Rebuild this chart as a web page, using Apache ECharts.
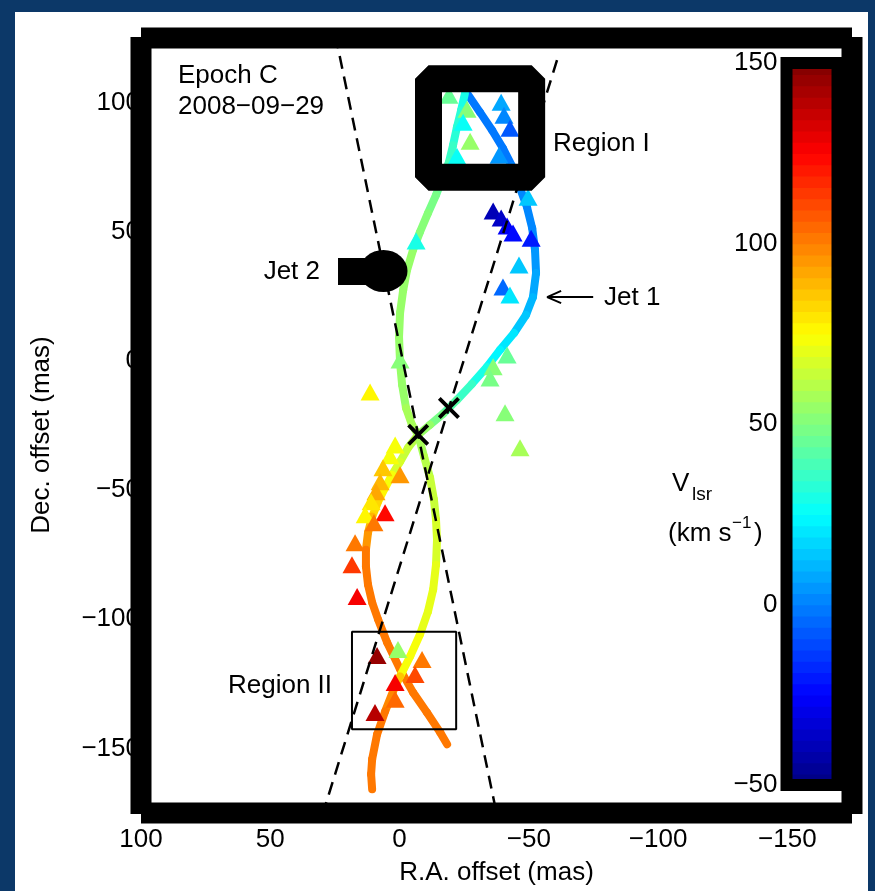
<!DOCTYPE html>
<html><head><meta charset="utf-8">
<script src="https://cdn.jsdelivr.net/npm/echarts@6/dist/echarts.min.js"></script>
<style>html,body{margin:0;padding:0;background:#0c3868;}#c{width:875px;height:891px;}</style>
</head><body><div id="c"></div>
<script>
// ---------- data ----------
const xTicks = [100, 50, 0, -50, -100, -150];
const yTicks = [100, 50, 0, -50, -100, -150];
const cbTicks = [150, 100, 50, 0, -50];
const CB_MIN = -50, CB_MAX = 150;

// Jet 1 model path (R.A. offset, Dec. offset, Vlsr)
const jet1RA  = [-26.1,-31.1,-35.8,-40.0,-43.5,-46.2,-49.3,-51.3,-52.4,-52.8,-51.6,-48.9,-44.3,-38.9,-33.8,-28.0,-22.2,-16.8,-11.8,-7.2,-3.3,-0.2,2.9,5.6,8.3,10.6,12.2,13.0,13.0,12.2,10.6,8.3,4.8,-0.2,-5.2,-10.6,-15.7,-18.4];
const jet1Dec = [103.6,96.3,89.3,82.3,75.4,68.0,59.5,51.4,42.9,34.0,24.7,17.8,10.8,4.3,-2.3,-8.9,-15.1,-20.5,-24.7,-28.6,-33.6,-39.0,-44.1,-49.1,-54.5,-60.3,-66.5,-73.1,-79.6,-86.6,-93.5,-100.1,-109.0,-119.4,-128.3,-136.1,-143.8,-148.4];
const jet1V   = [-2,-2,-1,-1,0,0,1,2,4,6,9,12,17,22,27,33,40,46,51,57,62,66,70,75,80,87,94,99,101,102,102,102,102,102,102,103,103,103];

// Jet 2 model path
const jet2RA  = [-25.3,-23.8,-22.2,-20.7,-19.1,-16.4,-14.1,-11.0,-7.9,-5.2,-2.9,-1.4,-0.2,0.2,-0.2,-1.0,-2.5,-4.8,-7.2,-9.5,-11.8,-13.3,-14.1,-14.5,-14.1,-13.0,-11.0,-7.9,-4.1,-0.2,2.5,5.6,8.7,10.6,11.0,10.6];
const jet2Dec = [103.6,97.0,90.5,83.5,76.9,70.0,64.2,57.2,49.9,42.9,35.2,27.4,18.6,9.3,-0.8,-9.3,-18.2,-24.7,-28.6,-37.1,-45.2,-53.7,-61.5,-69.2,-78.9,-88.5,-97.0,-105.9,-114.4,-122.1,-127.9,-135.7,-144.6,-154.2,-160.0,-165.8];
const jet2V   = [30,31,33,35,37,42,46,50,52,53,54,54,54,54,55,55,56,57,58,60,62,64,66,68,69,70,71,72,74,75,96,100,101,102,102,102];

// Maser spots (triangles)
const spotRA  = [-19.1,-26.1,-24.6,-27.3,-22.2,-39.3,-40.4,-42.7,-38.5,-49.7,-36.2,-39.3,-41.6,-43.9,-50.9,-46.2,-40.0,-42.7,-6.4,-41.6,-36.2,-35.0,-0.2,11.4,-40.8,-46.6,1.7,3.7,6.4,-0.2,7.5,9.1,11.0,5.6,13.3,9.9,17.2,18.4,16.4,8.7,0.6,-8.7,-6.0,1.7,1.7,9.5];
const spotDec = [102.8,97.4,92.4,85.0,79.2,100.1,95.1,90.1,79.6,63.4,58.0,55.3,52.2,49.5,47.5,37.1,28.6,25.5,46.4,2.3,-2.3,-6.6,0.4,-12.0,-20.1,-33.6,-32.5,-36.7,-41.4,-44.1,-46.8,-50.6,-54.5,-58.8,-59.5,-62.6,-70.4,-78.9,-91.2,-114.0,-111.7,-115.6,-121.4,-124.5,-131.0,-136.1];
const spotV   = [45,50,28,55,25,8,0,-8,5,15,-40,-35,-28,-25,-20,15,-5,20,30,45,50,48,52,75,50,58,73,74,85,95,90,92,80,122,75,100,100,115,125,145,55,100,112,125,105,140];

// Jet axes (dashed lines) and crossing points
const axisA_RA = [24.8, -37.5], axisA_Dec = [126, -175];
const axisB_RA = [-60.9, 29.6], axisB_Dec = [116.4, -175];
const crossRA = [-7.2, -19.1], crossDec = [-28.6, -18.2];

// Boxes
const region1RA = [-11.2, -51.1], region1Dec = [71.1, 109.2];
const region2RA = [18.4, -21.9], region2Dec = [-142.6, -104.8];

// Annotation arrows
const jet2ArrowRA = [23.8, 12.6], jet2ArrowDec = [34.6, 34.6];
const jet2HeadRA = 6.2, jet2HeadDec = 34.8;
const jet1ArrowRA = [-74.9, -57.1], jet1ArrowDec = [24.7, 24.7];
const jet1HeadRA = [-62.5, -57.1, -62.5], jet1HeadDec = [27.1, 24.7, 22.4];

// ---------- helpers ----------
function jetColor(v){
  let t = (v - CB_MIN) / (CB_MAX - CB_MIN); t = Math.max(0, Math.min(1, t));
  const i = Math.min(63, Math.floor(t * 64)); const tq = (i + 0.5) / 64;
  const f = x => Math.max(0, Math.min(1, 1.5 - Math.abs(4 * tq - x)));
  return 'rgb(' + Math.round(f(3)*255) + ',' + Math.round(f(2)*255) + ',' + Math.round(f(1)*255) + ')';
}
const minus = v => String(v).replace('-', '\u2212');
const FONT = "'Liberation Sans', Arial, Helvetica, sans-serif";

function segs(ra, dec, v){
  const out = [];
  for (let i = 0; i < ra.length - 1; i++) out.push([ra[i], dec[i], ra[i+1], dec[i+1], (v[i] + v[i+1]) / 2]);
  return out;
}
const jetSegs = segs(jet1RA, jet1Dec, jet1V).concat(segs(jet2RA, jet2Dec, jet2V));
const spots = spotRA.map((x, i) => [x, spotDec[i], spotV[i]]);
const cbBands = [];
for (let i = 0; i < 64; i++) {
  const lo = CB_MIN + (CB_MAX - CB_MIN) * i / 64, hi = CB_MIN + (CB_MAX - CB_MIN) * (i + 1) / 64;
  cbBands.push([lo, hi, (lo + hi) / 2]);
}
// closed box path that repeats its first edge so every corner gets a join
const boxPts = (ra, dec) => [[ra[0],dec[0]],[ra[1],dec[0]],[ra[1],dec[1]],[ra[0],dec[1]],[ra[0],dec[0]],[ra[1],dec[0]]];
const jet1Arrow = [[jet1ArrowRA[0], jet1ArrowDec[0]], [jet1ArrowRA[1], jet1ArrowDec[1]], [null, null]]
  .concat(jet1HeadRA.map((x, i) => [x, jet1HeadDec[i]]));

const chart = echarts.init(document.getElementById('c'), null, {renderer: 'canvas'});
const txt = (text, x, y, opt, extra) => Object.assign({type: 'text', x: x, y: y, z: 30,
  style: Object.assign({text: text, fill: '#000', font: '26px ' + FONT, textVerticalAlign: 'middle', textAlign: 'left'}, opt || {})}, extra || {});
const notch = (x, y) => ({type: 'rect', shape: {x: x, y: y, width: 11, height: 10}, style: {fill: '#fff'}, z: 40, silent: true});

chart.setOption({
  animation: false,
  textStyle: {fontFamily: FONT},
  grid: [
    {left: 141, right: 23, top: 38, bottom: 77, show: true, borderColor: '#000', borderWidth: 21, z: 20},
    {left: 786.5, width: 51, top: 63, height: 722, show: true, borderColor: '#000', borderWidth: 12, z: 20}
  ],
  xAxis: [
    {gridIndex: 0, type: 'value', inverse: true, min: -175, max: 100,
     axisLine: {show: false}, axisTick: {show: false}, splitLine: {show: false},
     axisLabel: {customValues: xTicks, formatter: minus, fontSize: 26, color: '#000', margin: 14},
     name: 'R.A. offset (mas)', nameLocation: 'middle', nameGap: 47,
     nameTextStyle: {fontSize: 26, color: '#000'}},
    {gridIndex: 1, type: 'value', min: 0, max: 1, show: false}
  ],
  yAxis: [
    {gridIndex: 0, type: 'value', min: -175, max: 125,
     axisLine: {show: false}, axisTick: {show: false}, splitLine: {show: false},
     axisLabel: {customValues: yTicks, formatter: minus, fontSize: 26, color: '#000', margin: 1}},
    {gridIndex: 1, type: 'value', min: CB_MIN, max: CB_MAX, interval: 50, position: 'left',
     axisLine: {show: false}, splitLine: {show: false},
     axisTick: {show: true, inside: true, length: 6, lineStyle: {color: '#000', width: 2}},
     axisLabel: {formatter: minus, fontSize: 26, color: '#000', margin: 9}},
    {gridIndex: 1, type: 'value', min: CB_MIN, max: CB_MAX, interval: 50, position: 'right',
     axisLine: {show: false}, splitLine: {show: false}, axisLabel: {show: false},
     axisTick: {show: true, inside: true, length: 6, lineStyle: {color: '#000', width: 2}}}
  ],
  graphic: [
    {type: 'rect', shape: {x: 15, y: 12, width: 853, height: 879}, style: {fill: '#fff'}, z: -10, silent: true},
    notch(130, 27), notch(852, 27), notch(130, 814), notch(852, 814),
    txt('Dec. offset (mas)', 42, 435, {textAlign: 'center'}, {rotation: Math.PI / 2}),
    txt('Epoch C', 178, 76),
    txt('2008\u221209\u221229', 178, 107),
    txt('Region I', 553, 144),
    txt('Jet 2', 320, 272, {textAlign: 'right'}),
    txt('Jet 1', 604, 298),
    txt('Region II', 228, 686),
    txt('V', 672, 484),
    txt('lsr', 692, 495, {font: '19px ' + FONT}),
    txt('(km s', 668, 534),
    txt('\u22121', 732, 523, {font: '17px ' + FONT}),
    txt(')', 754, 534)
  ],
  series: [
    {type: 'custom', name: 'jets', xAxisIndex: 0, yAxisIndex: 0, z: 2, clip: true,
     encode: {x: [0, 2], y: [1, 3]}, data: jetSegs,
     renderItem: (params, api) => {
       const p1 = api.coord([api.value(0), api.value(1)]), p2 = api.coord([api.value(2), api.value(3)]);
       return {type: 'line', shape: {x1: p1[0], y1: p1[1], x2: p2[0], y2: p2[1]},
               style: {stroke: jetColor(api.value(4)), lineWidth: 8, lineCap: 'round'}};
     }},
    {type: 'scatter', name: 'spots', xAxisIndex: 0, yAxisIndex: 0, z: 3, data: spots,
     symbol: 'triangle', symbolSize: [19, 17],
     itemStyle: {color: p => jetColor(p.value[2]), opacity: 1}},
    {type: 'line', xAxisIndex: 0, yAxisIndex: 0, z: 4, symbol: 'none', clip: true,
     data: axisA_RA.map((x, i) => [x, axisA_Dec[i]]),
     lineStyle: {color: '#000', width: 2.5, type: [13, 8]}},
    {type: 'line', xAxisIndex: 0, yAxisIndex: 0, z: 4, symbol: 'none', clip: true,
     data: axisB_RA.map((x, i) => [x, axisB_Dec[i]]),
     lineStyle: {color: '#000', width: 2.5, type: [13, 8]}},
    {type: 'scatter', xAxisIndex: 0, yAxisIndex: 0, z: 5,
     data: crossRA.map((x, i) => [x, crossDec[i]]),
     symbol: 'path://M2.5,0 L10,7.5 L17.5,0 L20,2.5 L12.5,10 L20,17.5 L17.5,20 L10,12.5 L2.5,20 L0,17.5 L7.5,10 L0,2.5 Z',
     symbolSize: 22, itemStyle: {color: '#000', opacity: 1}},
    {type: 'line', xAxisIndex: 0, yAxisIndex: 0, z: 6, symbol: 'none',
     data: boxPts(region1RA, region1Dec), lineStyle: {color: '#000', width: 27, join: 'bevel', cap: 'butt'}},
    {type: 'line', xAxisIndex: 0, yAxisIndex: 0, z: 6, symbol: 'none',
     data: boxPts(region2RA, region2Dec), lineStyle: {color: '#000', width: 2}},
    {type: 'line', xAxisIndex: 0, yAxisIndex: 0, z: 6, symbol: 'none',
     data: jet2ArrowRA.map((x, i) => [x, jet2ArrowDec[i]]), lineStyle: {color: '#000', width: 27, cap: 'butt'}},
    {type: 'scatter', xAxisIndex: 0, yAxisIndex: 0, z: 6, data: [[jet2HeadRA, jet2HeadDec]],
     symbol: 'circle', symbolSize: [48, 42], itemStyle: {color: '#000', opacity: 1}},
    {type: 'line', xAxisIndex: 0, yAxisIndex: 0, z: 6, symbol: 'none', connectNulls: false,
     data: jet1Arrow, lineStyle: {color: '#000', width: 2}},
    {type: 'custom', name: 'colorbar', xAxisIndex: 1, yAxisIndex: 1, z: 2,
     encode: {x: -1, y: [0, 1]}, data: cbBands,
     renderItem: (params, api) => {
       const a = api.coord([0, api.value(1)]), b = api.coord([1, api.value(0)]);
       return {type: 'rect', shape: {x: a[0], y: a[1] - 0.8, width: b[0] - a[0], height: b[1] - a[1] + 1.6},
               style: {fill: jetColor(api.value(2))}};
     }}
  ]
});
</script></body></html>
